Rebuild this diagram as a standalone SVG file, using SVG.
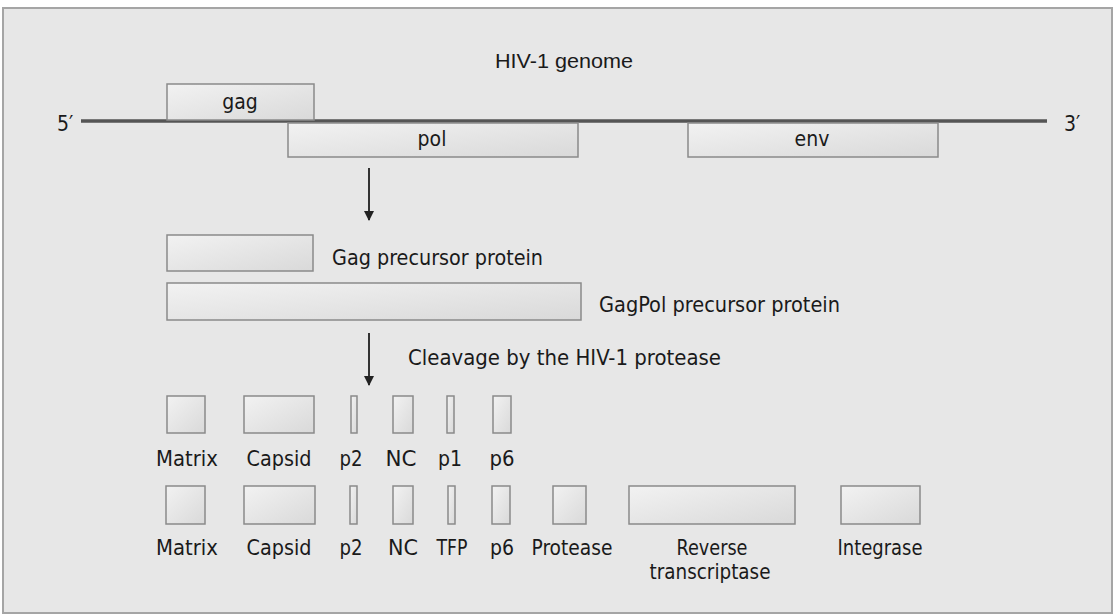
<svg xmlns="http://www.w3.org/2000/svg" width="1114" height="614" viewBox="0 0 1114 614">
<defs>
<linearGradient id="g" x1="0" y1="0" x2="1" y2="1">
<stop offset="0" stop-color="#f2f2f2"/>
<stop offset="1" stop-color="#d9d9d9"/>
</linearGradient>
<marker id="ah" viewBox="0 0 10 10" refX="9" refY="5" markerWidth="13" markerHeight="10" orient="auto" markerUnits="userSpaceOnUse">
<path d="M0,0 L10,5 L0,10 z" fill="#222"/>
</marker>
</defs>
<style>
.bx{fill:url(#g);stroke:#8a8a8a;stroke-width:1.5}
.t{font-family:"Liberation Sans Narrow","DejaVu Sans Condensed","Liberation Sans",Arial,sans-serif;font-size:21px;fill:#1a1a1a}
.c{text-anchor:middle}
.ar{stroke:#333;stroke-width:2;fill:none}
</style>
<rect x="0" y="0" width="1114" height="614" fill="#ffffff"/>
<rect x="3" y="8" width="1109" height="605" fill="#e7e7e7" stroke="#a5a5a5" stroke-width="2"/>

<text class="t c" x="564" y="68" style="font-family:'Liberation Sans',Arial,sans-serif" font-size="20" textLength="138" lengthAdjust="spacingAndGlyphs">HIV-1 genome</text>

<g id="genome">
<line x1="81" y1="121" x2="1047" y2="121" stroke="#555" stroke-width="3.5"/>
<text class="t" x="57" y="131">5′</text>
<text class="t" x="1064" y="131">3′</text>
</g>
<g id="gag"><rect class="bx" x="167" y="84" width="147" height="36"/><text class="t c" x="240" y="109">gag</text></g>
<g id="pol"><rect class="bx" x="288" y="123" width="290" height="34"/><text class="t c" x="432" y="146">pol</text></g>
<g id="env"><rect class="bx" x="688" y="123" width="250" height="34"/><text class="t c" x="812" y="146">env</text></g>

<g id="connectors">
<line class="ar" x1="369" y1="168" x2="369" y2="220" marker-end="url(#ah)"/>
<line class="ar" x1="369" y1="333" x2="369" y2="385" marker-end="url(#ah)"/>
</g>

<g id="gagprec"><rect class="bx" x="167" y="235" width="146" height="36"/><text class="t" x="332" y="265" textLength="211" lengthAdjust="spacingAndGlyphs">Gag precursor protein</text></g>
<g id="gagpolprec"><rect class="bx" x="167" y="283" width="414" height="37"/><text class="t" x="599" y="312" textLength="241" lengthAdjust="spacingAndGlyphs">GagPol precursor protein</text></g>
<text class="t" x="408" y="365" textLength="313" lengthAdjust="spacingAndGlyphs">Cleavage by the HIV-1 protease</text>

<g id="row1">
<g id="r1-matrix"><rect class="bx" x="167" y="396" width="38" height="37"/><text class="t c" x="187" y="466" textLength="62" lengthAdjust="spacingAndGlyphs">Matrix</text></g>
<g id="r1-capsid"><rect class="bx" x="244" y="396" width="70" height="37"/><text class="t c" x="279" y="466" textLength="65" lengthAdjust="spacingAndGlyphs">Capsid</text></g>
<g id="r1-p2"><rect class="bx" x="351" y="396" width="6" height="37"/><text class="t c" x="351" y="466" textLength="23" lengthAdjust="spacingAndGlyphs">p2</text></g>
<g id="r1-nc"><rect class="bx" x="393" y="396" width="20" height="37"/><text class="t c" x="401" y="466" textLength="31" lengthAdjust="spacingAndGlyphs">NC</text></g>
<g id="r1-p1"><rect class="bx" x="447" y="396" width="7" height="37"/><text class="t c" x="450" y="466" textLength="24" lengthAdjust="spacingAndGlyphs">p1</text></g>
<g id="r1-p6"><rect class="bx" x="493" y="396" width="18" height="37"/><text class="t c" x="502" y="466" textLength="25" lengthAdjust="spacingAndGlyphs">p6</text></g>
</g>

<g id="row2">
<g id="r2-matrix"><rect class="bx" x="166" y="486" width="39" height="38"/><text class="t c" x="187" y="555" textLength="62" lengthAdjust="spacingAndGlyphs">Matrix</text></g>
<g id="r2-capsid"><rect class="bx" x="244" y="486" width="71" height="38"/><text class="t c" x="279" y="555" textLength="65" lengthAdjust="spacingAndGlyphs">Capsid</text></g>
<g id="r2-p2"><rect class="bx" x="350" y="486" width="7" height="38"/><text class="t c" x="351" y="555" textLength="23" lengthAdjust="spacingAndGlyphs">p2</text></g>
<g id="r2-nc"><rect class="bx" x="393" y="486" width="20" height="38"/><text class="t c" x="403" y="555" textLength="30" lengthAdjust="spacingAndGlyphs">NC</text></g>
<g id="r2-tfp"><rect class="bx" x="448" y="486" width="7" height="38"/><text class="t c" x="452" y="555" textLength="31" lengthAdjust="spacingAndGlyphs">TFP</text></g>
<g id="r2-p6"><rect class="bx" x="492" y="486" width="18" height="38"/><text class="t c" x="502" y="555" textLength="24" lengthAdjust="spacingAndGlyphs">p6</text></g>
<g id="r2-protease"><rect class="bx" x="553" y="486" width="33" height="38"/><text class="t c" x="572" y="555" textLength="81" lengthAdjust="spacingAndGlyphs">Protease</text></g>
<g id="r2-rt"><rect class="bx" x="629" y="486" width="166" height="38"/><text class="t c" x="712" y="555" font-size="20" textLength="71" lengthAdjust="spacingAndGlyphs">Reverse</text><text class="t c" x="710" y="579" font-size="20" textLength="121" lengthAdjust="spacingAndGlyphs">transcriptase</text></g>
<g id="r2-integrase"><rect class="bx" x="841" y="486" width="79" height="38"/><text class="t c" x="880" y="555" textLength="85" lengthAdjust="spacingAndGlyphs">Integrase</text></g>
</g>
</svg>
